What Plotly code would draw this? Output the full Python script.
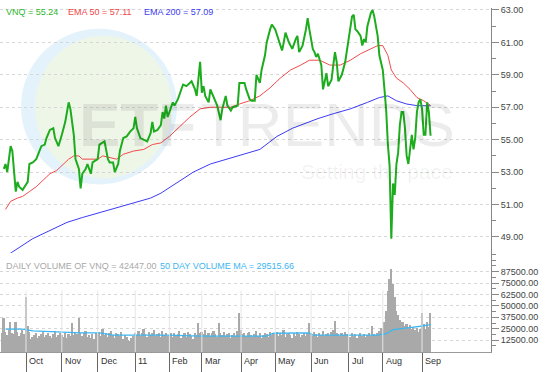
import numpy as np
import plotly.graph_objects as go

# ---------------- data ----------------
month_labels = ["Oct", "Nov", "Dec", "11", "Feb", "Mar", "Apr", "May", "Jun", "Jul", "Aug", "Sep"]
# trading days per month (Sep-2010 partial ... Sep-2011 partial)
month_trading_days = [14, 21, 21, 22, 20, 19, 23, 20, 21, 22, 20, 23, 6]

close_day = [1, 2, 3, 5, 6, 7, 8, 9, 10, 12,
             15, 16, 18, 20, 22, 23, 25, 26, 28, 30,
             31, 33, 35, 37, 39, 40, 42, 43, 45, 46,
             47, 49, 50, 52, 53, 56, 57, 59, 60, 62,
             63, 65, 66, 68, 69, 71, 73, 75, 77, 78,
             79, 81, 83, 85, 87, 88, 89, 91, 93, 94,
             95, 96, 97, 100, 101, 103, 106, 108, 111, 113,
             114, 115, 116, 117, 118, 119, 121, 122, 124, 125,
             126, 128, 129, 131, 132, 134, 135, 138, 139, 142,
             143, 145, 146, 148, 149, 151, 152, 154, 155, 157,
             158, 160, 162, 164, 165, 166, 168, 170, 172, 173,
             174, 176, 178, 179, 180, 182, 183, 184, 185, 187,
             188, 189, 190, 191, 193, 194, 195, 196, 197, 199,
             201, 203, 205, 206, 207, 208, 210, 211, 212, 213,
             214, 216, 217, 218, 219, 220, 221, 222, 223, 224,
             225, 226, 227, 228, 229, 230, 231, 232, 233, 234,
             235, 236, 237, 238, 239, 240, 241, 242, 243, 244,
             245, 246, 247, 248, 249, 250, 251]
close = [53.2, 53.5, 53.0, 54.6, 54.3, 53.2, 51.8, 52.4, 52.1, 51.9,
         52.4, 53.5, 53.6, 53.8, 54.4, 54.6, 54.7, 55.1, 55.6, 55.7,
         55.1, 54.6, 55.3, 56.1, 57.3, 56.9, 55.3, 53.8, 53.2, 52.0,
         52.9, 53.2, 53.5, 52.9, 53.6, 53.8, 54.7, 54.8, 54.9, 53.8,
         53.6, 53.6, 53.0, 53.5, 54.3, 55.1, 55.2, 55.5, 55.7, 56.4,
         55.7, 55.1, 55.0, 54.9, 55.4, 56.1, 55.5, 55.6, 55.9, 56.7,
         56.3, 57.1, 56.4, 57.3, 57.1, 57.5, 58.4, 58.3, 58.6, 58.1,
         57.7, 58.7, 59.8, 57.9, 58.3, 57.7, 57.3, 58.1, 57.6, 57.3,
         57.1, 56.2, 56.9, 57.7, 57.1, 56.8, 57.0, 57.1, 58.5, 58.5,
         58.1, 57.5, 57.4, 57.4, 59.0, 58.5, 59.3, 60.2, 61.0, 61.8,
         62.1, 61.8, 61.2, 60.5, 61.0, 61.6, 61.0, 60.6, 61.2, 61.4,
         60.4, 60.8, 61.8, 62.5, 61.8, 60.6, 60.4, 60.1, 60.3, 59.6,
         58.1, 58.7, 59.1, 58.3, 58.7, 59.6, 60.4, 59.8, 58.6, 59.0,
         59.8, 61.2, 62.6, 62.7, 61.8, 61.7, 61.4, 60.8, 61.2, 61.0,
         62.0, 62.8, 63.0, 62.6, 62.0, 61.4, 60.2, 59.8, 59.3, 58.1,
         56.8, 54.7, 53.4, 48.9, 52.3, 51.6, 53.5, 54.2, 55.9, 56.7,
         56.7, 55.7, 54.0, 53.5, 54.6, 55.3, 54.4, 55.1, 56.7, 57.3,
         57.5, 56.9, 55.3, 55.3, 57.3, 56.7, 55.24]

ema50_day = [2, 5, 9, 12, 16, 20, 24, 28, 32, 36, 39, 42, 45, 47, 52, 56, 59, 63, 67, 71,
             77, 83, 88, 93, 98, 104, 110, 116, 122, 128, 134, 139, 145, 151, 157, 163,
             169, 175, 180, 186, 192, 198, 204, 210, 216, 220, 223, 226, 228, 231, 235,
             239, 243, 247, 251]
ema50 = [50.7, 51.2, 51.4, 51.5, 51.8, 52.1, 52.5, 52.9, 53.1, 53.5, 53.8, 54.0, 54.0, 53.8,
         53.8, 53.8, 54.0, 53.9, 53.8, 54.1, 54.3, 54.4, 54.7, 54.8, 55.2, 55.8, 56.4, 56.9,
         57.0, 57.0, 57.0, 57.2, 57.4, 57.7, 58.2, 58.8, 59.3, 59.6, 59.9, 59.9, 59.6, 59.6,
         59.9, 60.3, 60.6, 60.8, 60.8, 60.2, 59.3, 58.8, 58.5, 58.1, 57.6, 57.4, 57.11]

ema200_day = [2, 9, 18, 28, 38, 47, 57, 67, 77, 87, 93, 103, 112, 122, 132, 141, 151, 161,
              170, 175, 185, 194, 204, 214, 221, 226, 231, 237, 243, 251]
ema200 = [47.8, 48.3, 48.9, 49.4, 49.9, 50.2, 50.5, 50.8, 51.1, 51.4, 51.7, 52.4, 53.0, 53.5,
          53.8, 54.1, 54.4, 55.2, 55.7, 55.9, 56.3, 56.6, 56.9, 57.3, 57.6, 57.7, 57.4, 57.2,
          57.1, 57.09]

# daily volume in thousands of shares, month by month
vol_sep10 = [20, 37, 22, 18, 24, 32, 21, 19, 33, 22, 17, 20, 24, 19]
vol_oct = [60, 28, 22, 14, 16, 18, 20, 15, 17, 19, 22, 16, 18, 21, 17, 15, 19, 23, 16, 18, 20]
vol_nov = [18, 16, 20, 15, 19, 17, 31, 18, 22, 19, 37, 21, 17, 20, 23, 16, 18, 15, 19, 14, 20]
vol_dec = [19, 22, 17, 25, 18, 21, 16, 20, 23, 18, 15, 21, 19, 17, 22, 14, 18, 16, 13, 12, 15, 17]
vol_jan = [20, 18, 23, 17, 21, 25, 19, 16, 22, 18, 20, 24, 17, 19, 21, 16, 23, 18, 20, 17]
vol_feb = [18, 21, 16, 20, 17, 19, 23, 15, 18, 20, 16, 22, 19, 17, 14, 21, 18, 31, 20]
vol_mar = [22, 19, 24, 18, 21, 17, 20, 23, 19, 16, 31, 20, 18, 22, 17, 19, 21, 15, 18, 20, 17, 23, 42]
vol_apr = [24, 19, 21, 17, 20, 22, 18, 16, 19, 23, 17, 20, 15, 18, 21, 19, 16, 22, 18, 20]
vol_may = [19, 22, 17, 20, 18, 24, 16, 19, 21, 18, 15, 20, 17, 22, 19, 16, 18, 21, 17, 20, 31]
vol_jun = [20, 17, 22, 19, 16, 21, 18, 23, 17, 19, 20, 18, 22, 24, 34, 21, 19, 17, 20, 18, 22, 19]
vol_jul = [18, 16, 20, 17, 19, 15, 18, 21, 17, 19, 16, 18, 20, 17, 28, 19, 18, 21, 23, 26]
vol_aug = [25, 32, 45, 67, 80, 91, 74, 60, 45, 40, 35, 33, 32, 28, 30, 26, 29, 25, 27, 24, 26, 22, 25]
vol_sep11 = [42, 30, 25, 33, 27, 42.447]

vol_ma_day = [2, 12, 18, 32, 46, 57, 65, 97, 116, 155, 159, 180, 182, 220, 225, 229, 233, 240, 245, 251]
vol_ma = [24500, 24500, 22600, 21500, 20400, 20400, 18000, 18000, 16800, 16900, 20000, 20400,
          18000, 18000, 19500, 24000, 25200, 26500, 27700, 29515.66]

price_ticks = [49, 51, 53, 55, 57, 59, 61, 63]
price_minor = [50, 52, 54, 56, 58, 60, 62]
vol_ticks = [12500, 25000, 37500, 50000, 62500, 75000, 87500]
vol_minor = [6250, 18750, 31250, 43750, 56250, 68750, 81250, 93750, 100000, 106250]

# ---------------- derived ----------------
volume = np.array(vol_sep10 + vol_oct + vol_nov + vol_dec + vol_jan + vol_feb + vol_mar +
                  vol_apr + vol_may + vol_jun + vol_jul + vol_aug + vol_sep11) * 1000
days = np.arange(len(volume))
month_starts = np.cumsum(month_trading_days)[:-1]

FONT = "Liberation Sans, Arial, Helvetica, sans-serif"
PW, PH = 491, 352   # plot area in px


def px(x):
    return x / PW


def py(y):
    return (PH - y) / PH


fig = go.Figure()

fig.add_trace(go.Bar(x=days, y=volume, xaxis="x", yaxis="y2", width=1.0,
                     marker=dict(color="#a9a9a9", line=dict(width=0)), hoverinfo="skip"))
fig.add_trace(go.Scatter(x=vol_ma_day, y=vol_ma, xaxis="x", yaxis="y2", mode="lines",
                         line=dict(color="#3db6f0", width=1.3), hoverinfo="skip"))
fig.add_trace(go.Scatter(x=ema200_day, y=ema200, mode="lines",
                         line=dict(color="#3b3bf5", width=1), hoverinfo="skip"))
fig.add_trace(go.Scatter(x=ema50_day, y=ema50, mode="lines",
                         line=dict(color="#f24a4a", width=1), hoverinfo="skip"))
fig.add_trace(go.Scatter(x=close_day, y=close, mode="lines",
                         line=dict(color="#1dac1d", width=2), hoverinfo="skip"))

shapes = [
    dict(type="circle", xref="paper", yref="paper", x0=px(21), x1=px(177), y0=py(183), y1=py(26),
         fillcolor="#e4f2fb", line=dict(width=0), layer="below"),
    dict(type="circle", xref="paper", yref="paper", x0=px(35), x1=px(172), y0=py(177), y1=py(33),
         fillcolor="#eef6e8", line=dict(width=0), layer="below"),
]
for m in month_starts:
    shapes.append(dict(type="line", xref="x", yref="y2 domain", x0=m, x1=m, y0=0, y1=0.62,
                       line=dict(color="#e6e6e6", width=1), layer="above"))

annotations = [
    dict(text="<b>ETF</b>", x=px(77), y=py(122.5), xref="paper", yref="paper", xanchor="left",
         yanchor="middle", showarrow=False, font=dict(family=FONT, size=62, color="rgba(0,0,0,0.075)")),
    dict(text="TRENDS", x=px(198), y=py(122.5), xref="paper", yref="paper", xanchor="left",
         yanchor="middle", showarrow=False, font=dict(family=FONT, size=62, color="rgba(0,0,0,0.075)")),
    dict(text="Setting the pace", x=px(299), y=py(170), xref="paper", yref="paper", xanchor="left",
         yanchor="middle", showarrow=False, font=dict(family=FONT, size=21, color="rgba(0,0,0,0.06)")),
    dict(text="VNQ = 55.24", x=px(4), y=py(9), xref="paper", yref="paper", xanchor="left",
         yanchor="middle", showarrow=False, font=dict(family=FONT, size=9, color="#2db52d")),
    dict(text="EMA 50 = 57.11", x=px(66), y=py(9), xref="paper", yref="paper", xanchor="left",
         yanchor="middle", showarrow=False, font=dict(family=FONT, size=9, color="#f04848")),
    dict(text="EMA 200 = 57.09", x=px(142), y=py(9), xref="paper", yref="paper", xanchor="left",
         yanchor="middle", showarrow=False, font=dict(family=FONT, size=9, color="#4040f0")),
    dict(text="DAILY VOLUME OF VNQ = 42447.00", x=px(4), y=py(265), xref="paper", yref="paper",
         xanchor="left", yanchor="middle", showarrow=False,
         font=dict(family=FONT, size=9, color="#a8a8a8")),
    dict(text="50 DAY VOLUME MA = 29515.66", x=px(158), y=py(265), xref="paper", yref="paper",
         xanchor="left", yanchor="middle", showarrow=False,
         font=dict(family=FONT, size=9, color="#3db6f0")),
]
for m, lab in zip(month_starts, month_labels):
    annotations.append(dict(text=lab, x=m, xref="x", y=py(361), yref="paper", xanchor="left",
                            yanchor="middle", xshift=1, showarrow=False,
                            font=dict(family=FONT, size=9, color="#333333")))

fig.update_layout(
    width=550, height=372,
    margin=dict(l=0, r=59, t=0, b=20, pad=0),
    paper_bgcolor="white", plot_bgcolor="white",
    showlegend=False, bargap=0, hovermode=False,
    font=dict(family=FONT, size=9, color="#333333"),
    xaxis=dict(range=[-1.23, 286.4], anchor="y2", showgrid=False, zeroline=False,
               showline=True, linecolor="#999999", linewidth=1,
               tickmode="array", tickvals=month_starts, ticks="outside", ticklen=20,
               tickcolor="#666666", tickwidth=1, showticklabels=False),
    yaxis=dict(domain=[py(262), py(5)], range=[47.411, 63.122], side="right", anchor="x",
               showline=True, linecolor="#888888", linewidth=1, zeroline=False,
               tickmode="array", tickvals=price_ticks, ticktext=[f"{v:.2f}" for v in price_ticks],
               ticks="outside", ticklen=7, tickcolor="#888888",
               tickfont=dict(family=FONT, size=9, color="#444444"),
               showgrid=True, gridcolor="#d6d6d6", griddash="3px,3px", gridwidth=1,
               minor=dict(tickmode="array", tickvals=price_minor, ticks="outside", ticklen=4,
                          tickcolor="#888888", showgrid=False)),
    yaxis2=dict(domain=[0, py(252)], range=[-543, 108152], side="right", anchor="x",
                showline=True, linecolor="#888888", linewidth=1, zeroline=False,
                tickmode="array", tickvals=vol_ticks, ticktext=[f"{v:.2f}" for v in vol_ticks],
                ticks="outside", ticklen=7, tickcolor="#888888",
                tickfont=dict(family=FONT, size=9, color="#444444"),
                showgrid=True, gridcolor="#d6d6d6", griddash="3px,3px", gridwidth=1,
                minor=dict(tickmode="array", tickvals=vol_minor, ticks="outside", ticklen=4,
                           tickcolor="#888888", showgrid=False)),
    shapes=shapes,
    annotations=annotations,
)

fig.write_html("out.html")
